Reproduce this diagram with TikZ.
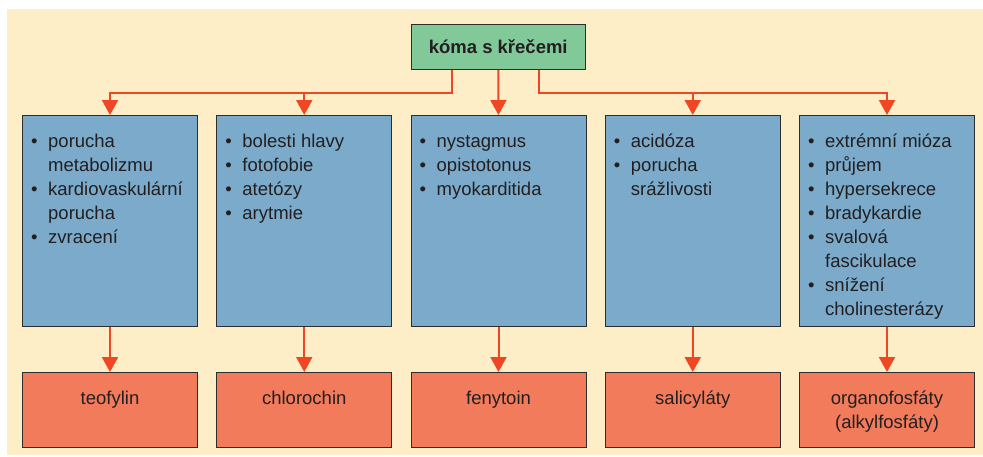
\documentclass[tikz,border=0pt]{standalone}
\usepackage{fontspec}
\setmainfont{Liberation Sans}
\usetikzlibrary{arrows.meta,calc}
\definecolor{bgc}{RGB}{253,238,200}
\definecolor{greenc}{RGB}{130,201,153}
\definecolor{bluec}{RGB}{123,170,203}
\definecolor{redc}{RGB}{242,123,92}
\definecolor{linec}{RGB}{240,70,35}
\definecolor{edgec}{RGB}{45,45,45}
\definecolor{txtc}{RGB}{35,31,32}
\newcommand{\myitem}[1]{\makebox[17pt][l]{•}#1}
\newcommand{\mycont}{\hspace*{17pt}}
\tikzset{
  box/.style={draw=edgec, line width=1pt, minimum width=175pt, inner sep=0pt, anchor=north west},
  symbox/.style={box, fill=bluec, minimum height=211pt},
  drugbox/.style={box, fill=redc, minimum height=75pt},
  conn/.style={draw=linec, line width=2pt, -{Triangle[width=16pt,length=15pt]}},
  txt/.style={font=\fontsize{18.5}{24}\selectfont, text=txtc, inner sep=0pt},
  listtxt/.style={txt, anchor=north west, align=left},
  drugtxt/.style={txt, anchor=north, align=center},
}
\begin{document}
\begin{tikzpicture}[x=1pt,y=-1pt]
\useasboundingbox (0,0) rectangle (983,456);
\fill[bgc] (7,9) rectangle (983,455);

\node[draw=edgec, line width=1pt, fill=greenc, minimum width=174.5pt, minimum height=45pt, inner sep=0pt,
      anchor=north west, font=\bfseries\fontsize{18.5}{24}\selectfont, text=txtc] (g) at (410.5,24) {kóma s křečemi};

\node[symbox] (b1) at (22,115) {};
\node[symbox] (b2) at (216.25,115) {};
\node[symbox] (b3) at (410.5,115) {};
\node[symbox] (b4) at (604.75,115) {};
\node[symbox] (b5) at (799,115) {};

\node[drugbox] (r1) at (22,372) {};
\node[drugbox] (r2) at (216.25,372) {};
\node[drugbox] (r3) at (410.5,372) {};
\node[drugbox] (r4) at (604.75,372) {};
\node[drugbox] (r5) at (799,372) {};

\node[listtxt] (t1) at ($(b1.north west)+(9,15.2)$) {\strut\myitem{porucha}\\\mycont metabolizmu\\\myitem{kardiovaskulární}\\\mycont porucha\\\myitem{zvracení}};
\node[listtxt] (t2) at ($(b2.north west)+(9,15.2)$) {\strut\myitem{bolesti hlavy}\\\myitem{fotofobie}\\\myitem{atetózy}\\\myitem{arytmie}};
\node[listtxt] (t3) at ($(b3.north west)+(9,15.2)$) {\strut\myitem{nystagmus}\\\myitem{opistotonus}\\\myitem{myokarditida}};
\node[listtxt] (t4) at ($(b4.north west)+(9,15.2)$) {\strut\myitem{acidóza}\\\myitem{porucha}\\\mycont srážlivosti};
\node[listtxt] (t5) at ($(b5.north west)+(9,15.2)$) {\strut\myitem{extrémní mióza}\\\myitem{průjem}\\\myitem{hypersekrece}\\\myitem{bradykardie}\\\myitem{svalová}\\\mycont fascikulace\\\myitem{snížení}\\\mycont cholinesterázy};

\node[drugtxt] (d1) at ($(r1.north)+(0,15.2)$) {\strut teofylin};
\node[drugtxt] (d2) at ($(r2.north)+(0,15.2)$) {\strut chlorochin};
\node[drugtxt] (d3) at ($(r3.north)+(0,15.2)$) {\strut fenytoin};
\node[drugtxt] (d4) at ($(r4.north)+(0,15.2)$) {\strut salicyláty};
\node[drugtxt] (d5) at ($(r5.north)+(0,15.2)$) {\strut organofosfáty\\(alkylfosfáty)};

\coordinate (jL) at (452,93);
\coordinate (jR) at (539,93);
\draw[conn] (g.south -| jL) -- (jL) -| (b1.north);
\draw[conn] (b2.north |- jL) -- (b2.north);
\draw[conn] (g.south) -- (b3.north);
\draw[conn] (g.south -| jR) -- (jR) -| (b5.north);
\draw[conn] (b4.north |- jR) -- (b4.north);

\draw[conn] (b1.south) -- (r1.north);
\draw[conn] (b2.south) -- (r2.north);
\draw[conn] (b3.south) -- (r3.north);
\draw[conn] (b4.south) -- (r4.north);
\draw[conn] (b5.south) -- (r5.north);
\end{tikzpicture}
\end{document}
